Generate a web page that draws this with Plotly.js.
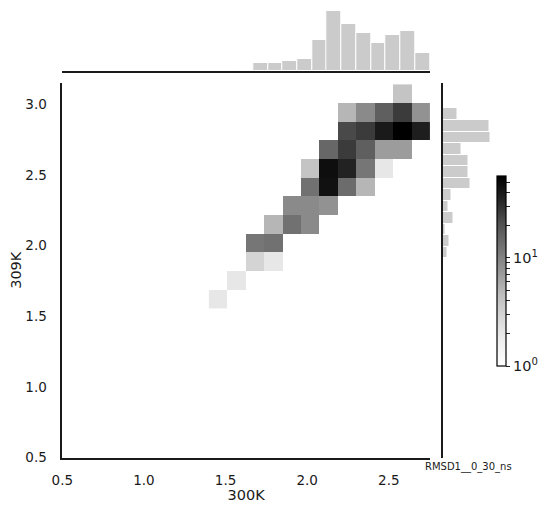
<!DOCTYPE html>
<html>
<head>
<meta charset="utf-8">
<script src="https://cdn.plot.ly/plotly-3.0.1.min.js"></script>
<style>
  body { margin: 0; }
  #plot { width: 550px; height: 509px; }
</style>
</head>
<body>
<div id="plot"></div>
<script>
// 2D histogram bin edges (300K on x, 309K on y)
const xEdges = [1.398, 1.511, 1.624, 1.736, 1.849, 1.962, 2.075, 2.188, 2.300, 2.413, 2.526, 2.639, 2.752];
const yEdges = [1.553, 1.685, 1.818, 1.950, 2.083, 2.215, 2.347, 2.480, 2.612, 2.745, 2.877, 3.009, 3.142];

// counts per cell, row 0 = lowest y bin, 0 = empty
const counts = [
  [2, 0, 0, 0, 0, 0, 0, 0, 0, 0, 0, 0],
  [0, 2, 0, 0, 0, 0, 0, 0, 0, 0, 0, 0],
  [0, 0, 3, 2, 0, 0, 0, 0, 0, 0, 0, 0],
  [0, 0, 12, 13, 0, 0, 0, 0, 0, 0, 0, 0],
  [0, 0, 0, 5, 13, 9, 0, 0, 0, 0, 0, 0],
  [0, 0, 0, 0, 9, 9, 8, 0, 0, 0, 0, 0],
  [0, 0, 0, 0, 0, 13, 45, 14, 5, 0, 0, 0],
  [0, 0, 0, 0, 0, 4, 47, 36, 12, 2, 0, 0],
  [0, 0, 0, 0, 0, 0, 15, 27, 17, 7, 7, 0],
  [0, 0, 0, 0, 0, 0, 0, 23, 27, 40, 57, 38],
  [0, 0, 0, 0, 0, 0, 0, 5, 9, 17, 27, 8],
  [0, 0, 0, 0, 0, 0, 0, 0, 0, 0, 4, 0]
];
const countMax = 57;

// marginal histogram of 300K (top)
const topCenters = [1.443, 1.533, 1.623, 1.714, 1.804, 1.894, 1.984, 2.075, 2.165, 2.255, 2.345, 2.436, 2.526, 2.616, 2.706];
const topCounts = [0, 0, 1, 12, 12, 14, 17, 45, 86, 67, 54, 40, 52, 58, 26];
const topWidth = 0.0902;

// marginal histogram of 309K (right)
const rightCenters = [2.931, 2.849, 2.767, 2.686, 2.604, 2.522, 2.441, 2.359, 2.277, 2.196, 2.114, 2.032, 1.951];
const rightCounts = [21, 68, 69, 28, 38, 38, 40, 13, 8, 16, 4, 10, 7];
const rightWidth = 0.0817;

// colorbar ticks (log scale)
const cbTicks = [1, 2, 3, 4, 5, 6, 7, 8, 9, 10, 20, 30, 40, 50];
const cbLabels = {1: "10<sup>0</sup>", 10: "10<sup>1</sup>"};

const zLog = counts.map(row => row.map(v => v > 0 ? Math.log10(v) : null));

const greys = [
  [0, "#ffffff"], [0.125, "#f0f0f0"], [0.25, "#d9d9d9"], [0.375, "#bdbdbd"],
  [0.5, "#969696"], [0.625, "#737373"], [0.75, "#525252"], [0.875, "#252525"], [1, "#000000"]
];

const W = 550, H = 509;
const px = v => v / W;
const py = v => 1 - v / H;

const heat = {
  type: "heatmap",
  x: xEdges,
  y: yEdges,
  z: zLog,
  zmin: 0,
  zmax: Math.log10(countMax),
  colorscale: greys,
  hoverongaps: false,
  colorbar: {
    x: px(497), xanchor: "left",
    y: py(366), yanchor: "bottom",
    len: (366 - 176) / H, lenmode: "fraction",
    thickness: 9,
    xpad: 0, ypad: 0,
    outlinewidth: 1.2, outlinecolor: "#000",
    tickmode: "array",
    tickvals: cbTicks.map(v => Math.log10(v)),
    ticktext: cbTicks.map(v => cbLabels[v] || ""),
    ticks: "outside", ticklen: 4, tickcolor: "#222",
    tickfont: {size: 14.5}
  }
};

const topHist = {
  type: "bar",
  x: topCenters,
  y: topCounts,
  width: topWidth,
  xaxis: "x2", yaxis: "y2",
  marker: {color: "#cbcbcb", line: {color: "#fff", width: 1}},
  hoverinfo: "y"
};

const rightHist = {
  type: "bar",
  orientation: "h",
  y: rightCenters,
  x: rightCounts,
  width: rightWidth,
  xaxis: "x3", yaxis: "y3",
  marker: {color: "#cbcbcb", line: {color: "#fff", width: 1}},
  hoverinfo: "x"
};

const xDom = [px(62.3), px(430)];
const yDom = [py(457.5), py(83)];
const xRange = [0.5, 2.752];
const yRange = [0.5, 3.152];

const layout = {
  width: W, height: H,
  margin: {l: 0, r: 0, t: 0, b: 0},
  paper_bgcolor: "#fff", plot_bgcolor: "rgba(0,0,0,0)",
  font: {family: "DejaVu Sans", size: 13.5, color: "#1a1a1a"},
  showlegend: false,
  bargap: 0,
  xaxis: {
    domain: xDom, range: xRange, anchor: "y",
    tickvals: [0.5, 1.0, 1.5, 2.0, 2.5], tickformat: ".1f",
    ticks: "", ticklabelstandoff: 9,
    showline: true, linecolor: "#1a1a1a", linewidth: 1.6,
    showgrid: false, zeroline: false,
    title: {text: "300K", font: {size: 14.5}, standoff: 3}
  },
  yaxis: {
    domain: yDom, range: yRange, anchor: "x",
    tickvals: [0.5, 1.0, 1.5, 2.0, 2.5, 3.0], tickformat: ".1f",
    ticks: "", ticklabelstandoff: 11,
    showline: true, linecolor: "#1a1a1a", linewidth: 1.6,
    showgrid: false, zeroline: false,
    title: {text: "309K", font: {size: 14.5}, standoff: 0}
  },
  xaxis2: {
    domain: xDom, range: xRange, anchor: "y2",
    showticklabels: false, ticks: "",
    showline: true, linecolor: "#1a1a1a", linewidth: 1.6,
    showgrid: false, zeroline: false
  },
  yaxis2: {
    domain: [py(71), 1], range: [0, 102], anchor: "x2",
    visible: false
  },
  xaxis3: {
    domain: [px(442.5), 1], range: [0, 154.5], anchor: "y3",
    visible: false
  },
  yaxis3: {
    domain: yDom, range: yRange, anchor: "x3",
    showticklabels: false, ticks: "",
    showline: true, linecolor: "#1a1a1a", linewidth: 1.6,
    showgrid: false, zeroline: false
  },
  annotations: [{
    text: "RMSD1__0_30_ns",
    xref: "paper", yref: "paper",
    x: px(468), y: py(467),
    xanchor: "center", yanchor: "middle",
    showarrow: false,
    font: {size: 10}
  }]
};

Plotly.newPlot("plot", [heat, topHist, rightHist], layout, {displayModeBar: false});
</script>
</body>
</html>
